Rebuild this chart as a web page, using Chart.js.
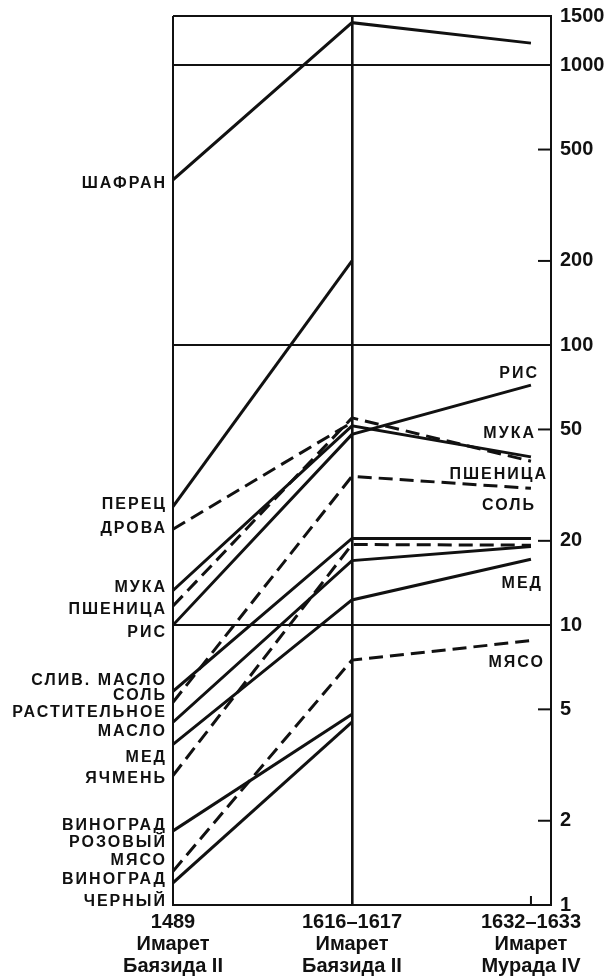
<!DOCTYPE html>
<html>
<head>
<meta charset="utf-8">
<script src="https://cdn.jsdelivr.net/npm/chart.js@4.4.1/dist/chart.umd.min.js"></script>
<style>
  html, body { margin: 0; padding: 0; background: #fff; }
  #wrap { width: 608px; height: 978px; }
</style>
</head>
<body>
<div id="wrap"><canvas id="grafico" width="608" height="978"></canvas></div>
<script>
// Периоды (ось X)
const periods = [
  ['1489', 'Имарет', 'Баязида II'],
  ['1616–1617', 'Имарет', 'Баязида II'],
  ['1632–1633', 'Имарет', 'Мурада IV']
];

// Товары
const goods = ['ШАФРАН', 'ПЕРЕЦ', 'ДРОВА', 'МУКА', 'ПШЕНИЦА', 'РИС', 'СЛИВ. МАСЛО', 'СОЛЬ',
  'РАСТИТЕЛЬНОЕ МАСЛО', 'МЕД', 'ЯЧМЕНЬ', 'ВИНОГРАД РОЗОВЫЙ', 'МЯСО', 'ВИНОГРАД ЧЕРНЫЙ'];

// Цены по периодам (null = нет данных)
const prices1489 = [390, 26.5, 22, 13.3, 11.7, 10, 5.8, 5.3, 4.5, 3.75, 2.9, 1.84, 1.32, 1.2];
const prices1616 = [1420, 200, 53, 51.5, 55, 48, 20.4, 34, 17, 12.3, 19.4, 4.8, 7.5, 4.5];
const prices1632 = [1200, null, null, 39.9, 38.5, 72, 20.4, 30.8, 19.1, 17.2, 19.3, null, 8.8, null];

// Пунктирные линии
const dashedGoods = ['ДРОВА', 'ПШЕНИЦА', 'СОЛЬ', 'ЯЧМЕНЬ', 'МЯСО'];

// Деления правой оси
const yTicks = [1, 2, 5, 10, 20, 50, 100, 200, 500, 1000, 1500];
const yGridLines = [10, 100, 1000, 1500];

// Подписи слева: строки, сдвиг (px) от начала линии, шаг строк
const leftLabels = [
  { good: 'ШАФРАН', lines: ['ШАФРАН'], dy: 4 },
  { good: 'ПЕРЕЦ', lines: ['ПЕРЕЦ'], dy: -2 },
  { good: 'ДРОВА', lines: ['ДРОВА'], dy: -1 },
  { good: 'МУКА', lines: ['МУКА'], dy: -3 },
  { good: 'ПШЕНИЦА', lines: ['ПШЕНИЦА'], dy: 4 },
  { good: 'РИС', lines: ['РИС'], dy: 7 },
  { good: 'СЛИВ. МАСЛО', lines: ['СЛИВ. МАСЛО'], dy: -11 },
  { good: 'СОЛЬ', lines: ['СОЛЬ'], dy: -7 },
  { good: 'РАСТИТЕЛЬНОЕ МАСЛО', lines: ['РАСТИТЕЛЬНОЕ', 'МАСЛО'], dy: 0, step: 19 },
  { good: 'МЕД', lines: ['МЕД'], dy: 13 },
  { good: 'ЯЧМЕНЬ', lines: ['ЯЧМЕНЬ'], dy: 3 },
  { good: 'ВИНОГРАД РОЗОВЫЙ', lines: ['ВИНОГРАД', 'РОЗОВЫЙ'], dy: 3, step: 17 },
  { good: 'МЯСО', lines: ['МЯСО'], dy: -11 },
  { good: 'ВИНОГРАД ЧЕРНЫЙ', lines: ['ВИНОГРАД', 'ЧЕРНЫЙ'], dy: 8, step: 22 }
];

// Подписи справа: сдвиг от конца линии
const rightLabels = [
  { good: 'РИС', dy: -12, dx: 3 },
  { good: 'МУКА', dy: -23, dx: 0 },
  { good: 'ПШЕНИЦА', dy: 13, dx: 12 },
  { good: 'СОЛЬ', dy: 17, dx: 0 },
  { good: 'МЕД', dy: 24, dx: 7 },
  { good: 'МЯСО', dy: 22, dx: 9 }
];

const INK = '#111';
const labelFont = 'bold 16px "Liberation Sans", Arial, sans-serif';

function seriesPoints(i) {
  return [prices1489[i], prices1616[i], prices1632[i]]
    .map((v, k) => v == null ? null : { x: k, y: v })
    .filter(p => p !== null);
}

const datasets = goods.map((name, i) => ({
  label: name,
  data: seriesPoints(i),
  borderColor: INK,
  borderWidth: 3,
  borderDash: dashedGoods.includes(name) ? [14, 7] : [],
  pointRadius: 0,
  fill: false,
  tension: 0
}));

// Подписи товаров и короткие внутренние деления
const annotations = {
  id: 'annotations',
  afterDatasetsDraw(chart) {
    const ctx = chart.ctx;
    const xs = chart.scales.x;
    const ys = chart.scales.y;
    const area = chart.chartArea;
    ctx.save();
    ctx.strokeStyle = INK;
    ctx.lineWidth = 2;

    // деления правой оси внутрь
    yTicks.forEach(v => {
      if (yGridLines.includes(v) || v === 1) return;
      const y = ys.getPixelForValue(v);
      ctx.beginPath();
      ctx.moveTo(area.right - 13, y);
      ctx.lineTo(area.right, y);
      ctx.stroke();
    });
    // деление у последнего периода
    const xLast = xs.getPixelForValue(periods.length - 1);
    ctx.beginPath();
    ctx.moveTo(xLast, area.bottom - 9);
    ctx.lineTo(xLast, area.bottom);
    ctx.stroke();

    ctx.fillStyle = INK;
    ctx.font = labelFont;
    ctx.letterSpacing = '2px';
    ctx.textBaseline = 'middle';

    // слева
    ctx.textAlign = 'right';
    leftLabels.forEach(l => {
      const i = goods.indexOf(l.good);
      const yc = ys.getPixelForValue(prices1489[i]) + l.dy;
      const step = l.step || 18;
      const y0 = yc - (l.lines.length - 1) * step / 2;
      l.lines.forEach((t, k) => ctx.fillText(t, area.left - 6, y0 + k * step));
    });

    // справа
    rightLabels.forEach(l => {
      const i = goods.indexOf(l.good);
      const y = ys.getPixelForValue(prices1632[i]) + l.dy;
      ctx.fillText(l.good, xLast + 5 + l.dx, y);
    });
    ctx.restore();
  }
};

new Chart(document.getElementById('grafico'), {
  type: 'line',
  data: { datasets },
  options: {
    responsive: false,
    animation: false,
    devicePixelRatio: 1,
    layout: { padding: { left: 173, top: 16, right: 0, bottom: 0 } },
    plugins: { legend: { display: false }, tooltip: { enabled: false } },
    scales: {
      x: {
        type: 'linear',
        min: 0,
        max: 2.112,
        afterBuildTicks: s => { s.ticks = periods.map((p, i) => ({ value: i })); },
        afterFit: s => { s.height = 73; },
        grid: {
          drawTicks: false,
          color: c => c.tick && c.tick.value < 2 ? INK : 'rgba(0,0,0,0)',
          lineWidth: c => c.tick && c.tick.value === 1 ? 2.6 : 2
        },
        border: { display: true, color: INK, width: 2 },
        ticks: {
          autoSkip: false,
          maxRotation: 0,
          padding: 6,
          color: INK,
          font: { family: '"Liberation Sans", Arial, sans-serif', size: 20, weight: 'bold', lineHeight: 1.1 },
          callback: v => periods[v]
        }
      },
      y: {
        type: 'logarithmic',
        position: 'right',
        min: 1,
        max: 1500,
        afterBuildTicks: s => { s.ticks = yTicks.map(v => ({ value: v })); },
        afterFit: s => { s.width = 57; s.paddingTop = 0; s.paddingBottom = 0; },
        grid: {
          drawTicks: false,
          color: c => c.tick && yGridLines.includes(c.tick.value) ? INK : 'rgba(0,0,0,0)',
          lineWidth: 2
        },
        border: { display: true, color: INK, width: 2 },
        ticks: {
          padding: 9,
          color: INK,
          font: { family: '"Liberation Sans", Arial, sans-serif', size: 20, weight: 'bold' },
          callback: v => String(v)
        }
      }
    }
  },
  plugins: [annotations]
});
</script>
</body>
</html>
